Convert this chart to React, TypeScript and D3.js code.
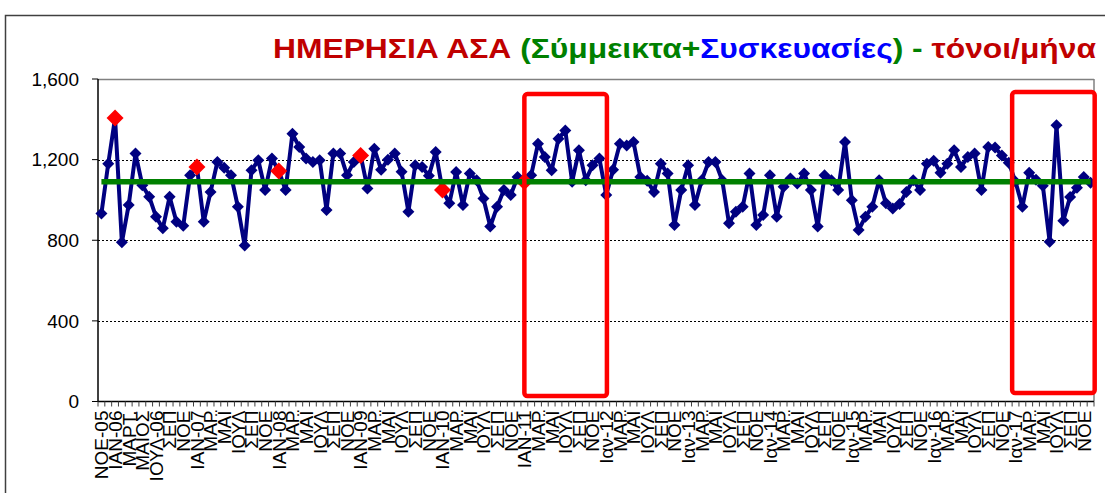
import React from "react";
import * as d3 from "d3";

// monthly tonnes, Nov 2005 .. Dec 2017
const monthlyTonnes = [
  933, 1180, 1406, 790, 975, 1230, 1073, 1016, 917, 859, 1016, 892, 872, 1123, 1164, 892,
  1040, 1188, 1160, 1123, 966, 774, 1147, 1197, 1049, 1205, 1144, 1049, 1328, 1263, 1205, 1188,
  1197, 950, 1230, 1230, 1123, 1188, 1221, 1057, 1254, 1150, 1200, 1230, 1140, 942, 1172, 1164,
  1120, 1238, 1049, 983, 1139, 975, 1131, 1098, 1007, 868, 966, 1049, 1024, 1114, 1090, 1123,
  1279, 1213, 1147, 1304, 1345, 1090, 1246, 1098, 1172, 1205, 1024, 1150, 1279, 1270, 1287, 1114,
  1095, 1040, 1180, 1131, 876, 1049, 1172, 975, 1098, 1188, 1188, 1098, 884, 942, 966, 1131,
  876, 925, 1123, 917, 1065, 1106, 1081, 1131, 1049, 868, 1123, 1098, 1049, 1287, 999, 851,
  917, 966, 1098, 983, 958, 980, 1040, 1098, 1049, 1180, 1195, 1135, 1180, 1246, 1164, 1213,
  1230, 1049, 1263, 1260, 1220, 1185, 1090, 966, 1135, 1100, 1070, 793, 1370, 897, 1015, 1060,
  1114, 1085,
];

// January points of 2006..2011 are highlighted in red
const redPoints = [2, 14, 26, 38, 50, 62];

const averageTonnes = 1090;

const yTicks = [0, 400, 800, 1200, 1600];

// one label every second month
const xTickLabels = [
  "ΝΟΕ-05",
  "ΙΑΝ-06", "ΜΑΡΤ.", "ΜΑΙΟΣ", "ΙΟΥΛ-06", "ΣΕΠ", "ΝΟΕ",
  "ΙΑΝ-07", "ΜΑΡ", "ΜΑΪ", "ΙΟΥΛ", "ΣΕΠ", "ΝΟΕ",
  "ΙΑΝ-08", "ΜΑΡ", "ΜΑΪ", "ΙΟΥΛ", "ΣΕΠ", "ΝΟΕ",
  "ΙΑΝ-09", "ΜΑΡ", "ΜΑΪ", "ΙΟΥΛ", "ΣΕΠ", "ΝΟΕ",
  "ΙΑΝ-10", "ΜΑΡ", "ΜΑΪ", "ΙΟΥΛ", "ΣΕΠ", "ΝΟΕ",
  "ΙΑΝ-11", "ΜΑΡ", "ΜΑΪ", "ΙΟΥΛ", "ΣΕΠ", "ΝΟΕ",
  "Ιαν-12", "ΜΑΡ", "ΜΑΪ", "ΙΟΥΛ", "ΣΕΠ", "ΝΟΕ",
  "Ιαν-13", "ΜΑΡ", "ΜΑΪ", "ΙΟΥΛ", "ΣΕΠ", "ΝΟΕ",
  "Ιαν-14", "ΜΑΡ", "ΜΑΪ", "ΙΟΥΛ", "ΣΕΠ", "ΝΟΕ",
  "Ιαν-15", "ΜΑΡ", "ΜΑΪ", "ΙΟΥΛ", "ΣΕΠ", "ΝΟΕ",
  "Ιαν-16", "ΜΑΡ", "ΜΑΪ", "ΙΟΥΛ", "ΣΕΠ", "ΝΟΕ",
  "Ιαν-17", "ΜΑΡ", "ΜΑΪ", "ΙΟΥΛ", "ΣΕΠ", "ΝΟΕ",
];

// highlight boxes, in category index / tonnes
const highlightBoxes = [
  { from: 62, to: 74.1, top: 1525, bottom: 27 },
  { from: 133.5, to: 145.6, top: 1535, bottom: 42 },
];

const W = 1105;
const H = 493;
const left = 98;
const right = 1094;
const top = 79;
const bottom = 401.5;
const font = "'Liberation Sans', Arial, sans-serif";

const diamond = (r: number) => `M0,${-r}L${r},0L0,${r}L${-r},0Z`;

const App: React.FC = () => {
  const n = monthlyTonnes.length;
  const x = d3.scaleLinear().domain([-0.5, n - 0.5]).range([left, right]);
  const y = d3.scaleLinear().domain([0, 1600]).range([bottom, top]);

  const line = d3
    .line<number>()
    .x((_, i) => x(i))
    .y((d) => y(d));

  const fmt = d3.format(",");

  return (
    <svg
      width={W}
      height={H}
      style={{ position: "absolute", left: 0, top: 0, background: "#fff" }}
    >
      <rect x={0} y={0} width={W} height={H} fill="#fff" />
      {/* chart border */}
      <rect x={5.5} y={15.5} width={1300} height={700} fill="none" stroke="#404040" strokeWidth={1.5} />

      {/* title */}
      <text
        x={1096}
        y={58}
        textAnchor="end"
        fontFamily={font}
        fontWeight="bold"
        fontSize={28}
        textLength={823}
        lengthAdjust="spacingAndGlyphs"
      >
        <tspan fill="#C00000">ΗΜΕΡΗΣΙΑ ΑΣΑ </tspan>
        <tspan fill="#008000">(Σύμμεικτα+</tspan>
        <tspan fill="#0000FF">Συσκευασίες</tspan>
        <tspan fill="#008000">) - </tspan>
        <tspan fill="#C00000">τόνοι/μήνα</tspan>
      </text>

      {/* gridlines */}
      {yTicks
        .filter((t) => t > 0 && t < 1600)
        .map((t) => (
          <line
            key={t}
            x1={left}
            x2={right}
            y1={Math.round(y(t)) + 0.5}
            y2={Math.round(y(t)) + 0.5}
            stroke="#000"
            strokeWidth={1}
            strokeDasharray="2,2"
          />
        ))}
      {/* plot frame top & right */}
      <line x1={left} x2={right} y1={top + 0.5} y2={top + 0.5} stroke="#808080" strokeWidth={1.5} />
      <line x1={right} x2={right} y1={top} y2={bottom} stroke="#808080" strokeWidth={1.5} />

      {/* y axis */}
      <line x1={left} x2={left} y1={top} y2={bottom} stroke="#000" strokeWidth={1.5} />
      {yTicks.map((t) => (
        <g key={t}>
          <line x1={left - 6} x2={left} y1={y(t)} y2={y(t)} stroke="#000" strokeWidth={1} />
          <text
            x={79}
            y={y(t)}
            dy="0.36em"
            textAnchor="end"
            fontFamily={font}
            fontSize={19}
            fill="#000"
          >
            {fmt(t)}
          </text>
        </g>
      ))}

      {/* x axis */}
      <line x1={left} x2={right} y1={bottom} y2={bottom} stroke="#000" strokeWidth={1.5} />
      {d3.range(n + 1).map((i) => (
        <line
          key={i}
          x1={x(i - 0.5)}
          x2={x(i - 0.5)}
          y1={bottom}
          y2={bottom + 5}
          stroke="#404040"
          strokeWidth={1}
        />
      ))}
      {xTickLabels.map((lab, k) => {
        const cx = x(k * 2);
        return (
          <text
            key={k}
            transform={`translate(${cx},${bottom + 9}) rotate(-90)`}
            dy="0.36em"
            textAnchor="end"
            fontFamily={font}
            fontSize={19}
            fill="#000"
          >
            {lab}
          </text>
        );
      })}

      {/* series */}
      <path
        d={line(monthlyTonnes) || ""}
        fill="none"
        stroke="#000080"
        strokeWidth={4}
        strokeLinejoin="round"
      />
      {monthlyTonnes.map((v, i) =>
        redPoints.includes(i) ? null : (
          <path key={i} d={diamond(6)} transform={`translate(${x(i)},${y(v)})`} fill="#000080" />
        )
      )}
      {redPoints.map((i) => (
        <path
          key={"r" + i}
          d={diamond(8.5)}
          transform={`translate(${x(i)},${y(monthlyTonnes[i])})`}
          fill="#FF0000"
        />
      ))}

      {/* average */}
      <line
        x1={x(0)}
        x2={x(n - 1)}
        y1={y(averageTonnes)}
        y2={y(averageTonnes)}
        stroke="#008000"
        strokeWidth={5.5}
      />

      {/* highlight boxes */}
      {highlightBoxes.map((b, k) => (
        <rect
          key={k}
          x={x(b.from)}
          y={y(b.top)}
          width={x(b.to) - x(b.from)}
          height={y(b.bottom) - y(b.top)}
          rx={3}
          fill="none"
          stroke="#FF0000"
          strokeWidth={4.5}
        />
      ))}
    </svg>
  );
};

export default App;
